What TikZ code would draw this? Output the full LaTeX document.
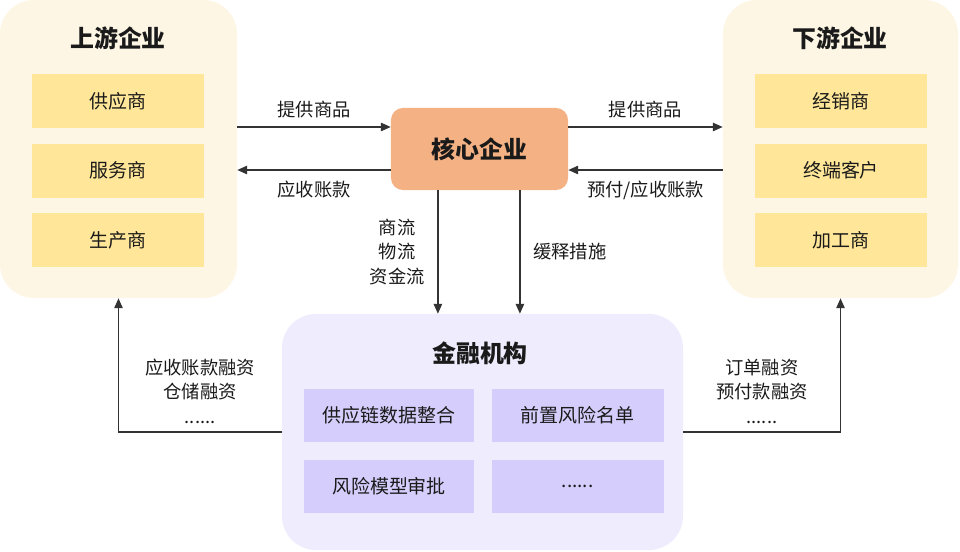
\documentclass[tikz,border=0pt]{standalone}
\usepackage{fontspec}
\setmainfont{Noto Sans CJK SC}
\usetikzlibrary{arrows.meta, positioning, calc}
\definecolor{groupcream}{HTML}{FEF6E4}
\definecolor{itemgold}{HTML}{FFE699}
\definecolor{coreorange}{HTML}{F4B183}
\definecolor{banklilac}{HTML}{EFEDFD}
\definecolor{bankitem}{HTML}{D5CDFB}
\definecolor{inkdark}{HTML}{1A1A1A}
\definecolor{arrowgray}{HTML}{333333}

\begin{document}
\begin{tikzpicture}[
      x=0.025cm, y=-0.025cm,
      groupbox/.style={rounded corners=0.85cm, inner sep=0pt},
      grouptitle/.style={font=\fontsize{17pt}{20pt}\selectfont\bfseries, text=inkdark},
      itembox/.style={minimum width=4.3cm, minimum height=1.35cm, inner sep=0pt,
        font=\fontsize{13.5pt}{16pt}\selectfont, text=inkdark},
      flow/.style={->, draw=arrowgray, line width=0.9pt},
      flowlabel/.style={font=\fontsize{13pt}{17.5pt}\selectfont, text=inkdark, align=center},
      >={Triangle[length=7pt, width=6pt]}
    ]
      \useasboundingbox (0,0) rectangle (960,552);
      % containers
      \node[groupbox, fill=groupcream, minimum width=5.925cm, minimum height=7.45cm]
        (upGroup) at (118.5,149) {};
      \node[groupbox, fill=groupcream, minimum width=5.875cm, minimum height=7.45cm]
        (downGroup) at (840.5,149) {};
      \node[groupbox, fill=banklilac, minimum width=10.025cm, minimum height=5.9cm]
        (bankGroup) at (482.5,432) {};
      % upstream
      \node[grouptitle] (upTitle) at (118,38) {上游企业};
      \node[itembox, fill=itemgold] (supplier) at (118,101) {供应商};
      \node[itembox, fill=itemgold, below=0.375cm of supplier] (service) {服务商};
      \node[itembox, fill=itemgold, below=0.375cm of service] (maker) {生产商};
      % downstream
      \node[grouptitle] (downTitle) at (840,38) {下游企业};
      \node[itembox, fill=itemgold] (dealer) at (841,101) {经销商};
      \node[itembox, fill=itemgold, below=0.375cm of dealer] (endclient) {终端客户};
      \node[itembox, fill=itemgold, below=0.375cm of endclient] (processor) {加工商};
      % core enterprise
      \node[fill=coreorange, rounded corners=0.3cm, minimum width=4.425cm,
        minimum height=2.05cm, font=\fontsize{17pt}{20pt}\selectfont\bfseries,
        text=inkdark] (core) at (479.5,149) {核心企业};
      % financial institution
      \node[grouptitle] (bankTitle) at (480,353) {金融机构};
      \node[itembox, fill=bankitem, minimum width=4.25cm, minimum height=1.325cm]
        (dataMerge) at (389,415.5) {供应链数据整合};
      \node[itembox, fill=bankitem, minimum width=4.3cm, minimum height=1.325cm,
        right=0.425cm of dataMerge] (riskList) {前置风险名单};
      \node[itembox, fill=bankitem, minimum width=4.25cm, minimum height=1.325cm,
        below=0.425cm of dataMerge] (riskModel) {风险模型审批};
      \node[itembox, fill=bankitem, minimum width=4.3cm, minimum height=1.325cm,
        below=0.425cm of riskList] (bankMore) {......};
      % goods and payments
      \draw[flow] ([yshift=0.55cm]core.west -| upGroup.east) -- ([yshift=0.55cm]core.west)
        node[midway, above=0.1cm, flowlabel] {提供商品};
      \draw[flow] ([yshift=-0.525cm]core.west) -- ([yshift=-0.525cm]core.west -| upGroup.east)
        node[midway, below=0.15cm, flowlabel] {应收账款};
      \draw[flow] ([yshift=0.55cm]core.east) -- ([yshift=0.55cm]core.east -| downGroup.west)
        node[midway, above=0.1cm, flowlabel] {提供商品};
      \draw[flow] ([yshift=-0.525cm]core.east -| downGroup.west) -- ([yshift=-0.525cm]core.east)
        node[midway, below=0.15cm, flowlabel] {预付/应收账款};
      % core to bank
      \draw[flow] ([xshift=-1.04cm]core.south) -- ([xshift=-1.04cm]core.south |- bankGroup.north)
        node[midway, left=0.2cm, flowlabel] {商流\\物流\\资金流};
      \draw[flow] ([xshift=1.01cm]core.south) -- ([xshift=1.01cm]core.south |- bankGroup.north)
        node[midway, right=0.2cm, flowlabel] {缓释措施};
      % financing
      \draw[flow] (bankGroup.west) -| (upGroup.south)
        node[pos=0.25, above=0.075cm, flowlabel] {应收账款融资\\仓储融资\\......};
      \draw[flow] (bankGroup.east) -| (downGroup.south)
        node[pos=0.25, above=0.075cm, flowlabel] {订单融资\\预付款融资\\......};
    \end{tikzpicture}
\end{document}
